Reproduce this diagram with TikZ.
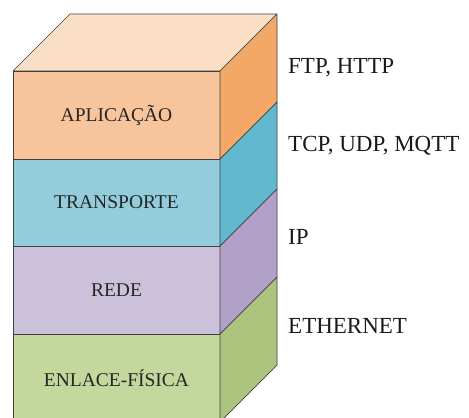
\documentclass[tikz,border=0pt]{standalone}
\usepackage{fontspec}
\setmainfont{Liberation Serif}
\begin{document}
\begin{tikzpicture}[x=1pt,y=-1pt,
  face/.style={draw=black!75,line width=0.7pt,line join=round},
  layertext/.style={font=\fontsize{19.5}{19.5}\selectfont,text=black!85},
  prototext/.style={font=\fontsize{23}{23}\selectfont,anchor=west,text=black!90,inner sep=0pt}]
\definecolor{apTop}{HTML}{FBDEC6}
\definecolor{apFront}{HTML}{F8C49B}
\definecolor{apSide}{HTML}{F4A867}
\definecolor{trFront}{HTML}{93CDDC}
\definecolor{trSide}{HTML}{62B8CF}
\definecolor{reFront}{HTML}{CCC1DA}
\definecolor{reSide}{HTML}{B1A0C7}
\definecolor{enFront}{HTML}{C4D79C}
\definecolor{enSide}{HTML}{ADC47F}
\useasboundingbox (0,0) rectangle (469,418);
\clip (0,0) rectangle (469,418);
% front x-range, depth offset
\def\xl{13}\def\xr{220}\def\dx{57}\def\dy{57}
% top face
\fill[apTop] (\xl,71) -- (\xl+\dx,71-\dy) -- (\xr+\dx,71-\dy) -- (\xr,71) -- cycle;
\draw[face] (\xl,71) -- (\xl+\dx,71-\dy) -- (\xr+\dx,71-\dy) -- (\xr,71) -- cycle;
% one layer: front face and right face between two heights
\foreach \ya/\yb/\cf/\cs in {71/159/apFront/apSide,159/246/trFront/trSide,246/334/reFront/reSide,334/422/enFront/enSide}{
  \filldraw[face,fill=\cf] (\xl,\ya) rectangle (\xr,\yb);
  \filldraw[face,fill=\cs] (\xr,\ya) -- (\xr+\dx,\ya-\dy) -- (\xr+\dx,\yb-\dy) -- (\xr,\yb) -- cycle;
}
% layer names
\node[layertext] (apl) at (116.5,115) {APLICAÇÃO};
\node[layertext] (tra) at (116.5,202) {TRANSPORTE};
\node[layertext] (red) at (116.5,290) {REDE};
\node[layertext] (enl) at (116.5,378) {ENLACE-FÍSICA};
% protocols
\node[prototext] (p1) at (288,68) {FTP, HTTP};
\node[prototext] (p2) at (288,146) {TCP, UDP, MQTT};
\node[prototext] (p3) at (288,237) {IP};
\node[prototext] (p4) at (288,326) {ETHERNET};
\end{tikzpicture}
\end{document}
